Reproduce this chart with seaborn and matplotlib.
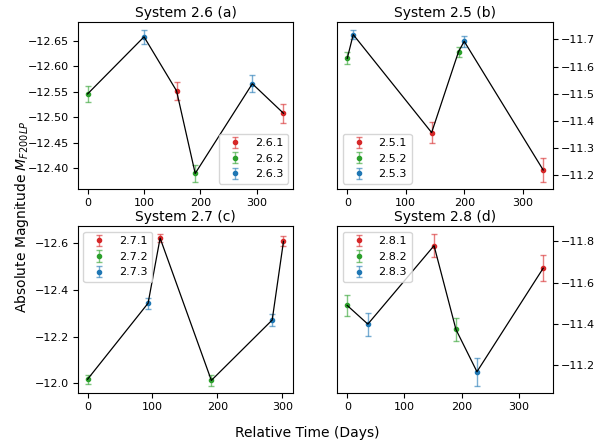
import pandas as pd
import matplotlib
matplotlib.use('Agg')
import matplotlib.pyplot as plt
import seaborn as sns

# Light curves of the lensed images
days_a = [0, 100, 157.6, 190.6, 291.8, 347]
mag_a = [-12.546, -12.658, -12.552, -12.390, -12.566, -12.508]
err_a = [0.016, 0.014, 0.018, 0.016, 0.017, 0.019]
img_a = ['2.6.2', '2.6.3', '2.6.1', '2.6.2', '2.6.3', '2.6.1']

days_b = [0, 10.2, 144.3, 190.3, 200, 335]
mag_b = [-11.630, -11.718, -11.356, -11.655, -11.693, -11.218]
err_b = [0.022, 0.018, 0.038, 0.018, 0.020, 0.043]
img_b = ['2.5.2', '2.5.3', '2.5.1', '2.5.2', '2.5.3', '2.5.1']

days_c = [0, 93.3, 111.8, 190.8, 284.6, 302]
mag_c = [-12.018, -12.343, -12.621, -12.013, -12.271, -12.607]
err_c = [0.019, 0.023, 0.018, 0.023, 0.025, 0.021]
img_c = ['2.7.2', '2.7.3', '2.7.1', '2.7.2', '2.7.3', '2.7.1']

days_d = [0, 36, 151.7, 190, 226.7, 342.4]
mag_d = [-11.489, -11.399, -11.778, -11.373, -11.169, -11.669]
err_d = [0.053, 0.056, 0.057, 0.057, 0.068, 0.062]
img_d = ['2.8.2', '2.8.3', '2.8.1', '2.8.2', '2.8.3', '2.8.1']

# y tick values shown on each panel
yticks_a = [-12.65, -12.60, -12.55, -12.50, -12.45, -12.40]
yticks_b = [-11.7, -11.6, -11.5, -11.4, -11.3, -11.2]
yticks_c = [-12.6, -12.4, -12.2, -12.0]
yticks_d = [-11.8, -11.6, -11.4, -11.2]
xticks = [0, 100, 200, 300]

systems = ['2.6', '2.5', '2.7', '2.8']
titles = ['System 2.6 (a)', 'System 2.5 (b)', 'System 2.7 (c)', 'System 2.8 (d)']
legend_locs = ['lower right', 'lower left', 'upper left', 'upper left']
image_colors = ['#d62728', '#2ca02c', '#1f77b4']  # image .1, .2, .3

panels = [
    pd.DataFrame({'Days': days_a, 'Mag': mag_a, 'Err': err_a, 'Image': img_a}),
    pd.DataFrame({'Days': days_b, 'Mag': mag_b, 'Err': err_b, 'Image': img_b}),
    pd.DataFrame({'Days': days_c, 'Mag': mag_c, 'Err': err_c, 'Image': img_c}),
    pd.DataFrame({'Days': days_d, 'Mag': mag_d, 'Err': err_d, 'Image': img_d}),
]
yticks_all = [yticks_a, yticks_b, yticks_c, yticks_d]

fig, axes = plt.subplots(2, 2, figsize=(6.03, 4.42), dpi=100)
plt.subplots_adjust(left=0.129, right=0.917, top=0.950, bottom=0.110,
                    wspace=0.205, hspace=0.222)

for i, ax in enumerate(axes.flat):
    df = panels[i]
    # one errorbar series per lensed image
    for k, col in enumerate(image_colors):
        name = f'{systems[i]}.{k + 1}'
        sub = df[df['Image'] == name]
        eb = ax.errorbar(sub['Days'], sub['Mag'], yerr=sub['Err'], fmt='o',
                         color=col, markersize=3, capsize=2, elinewidth=1,
                         label=name, zorder=2)
        for ln in eb[1]:
            ln.set_alpha(0.6)
        for ln in eb[2]:
            ln.set_alpha(0.6)
    # black line joining the points in time order
    sns.lineplot(data=df, x='Days', y='Mag', color='black', linewidth=0.9,
                 estimator=None, sort=True, ax=ax, zorder=3, legend=False)
    ax.set_yticks(yticks_all[i])
    ax.set_xticks(xticks)
    ax.invert_yaxis()
    ax.set_title(titles[i], fontsize=10, pad=4)
    ax.set_xlabel('')
    ax.set_ylabel('')
    ax.tick_params(labelsize=8, pad=2.5)
    if i % 2 == 1:
        ax.yaxis.tick_right()
    ax.legend(loc=legend_locs[i], fontsize=8)

fig.supxlabel('Relative Time (Days)', fontsize=10, x=0.51, y=0.005)
fig.supylabel('Absolute Magnitude $M_{F200LP}$', fontsize=10, x=0.021, y=0.51)

plt.savefig('out.png', dpi=100)
